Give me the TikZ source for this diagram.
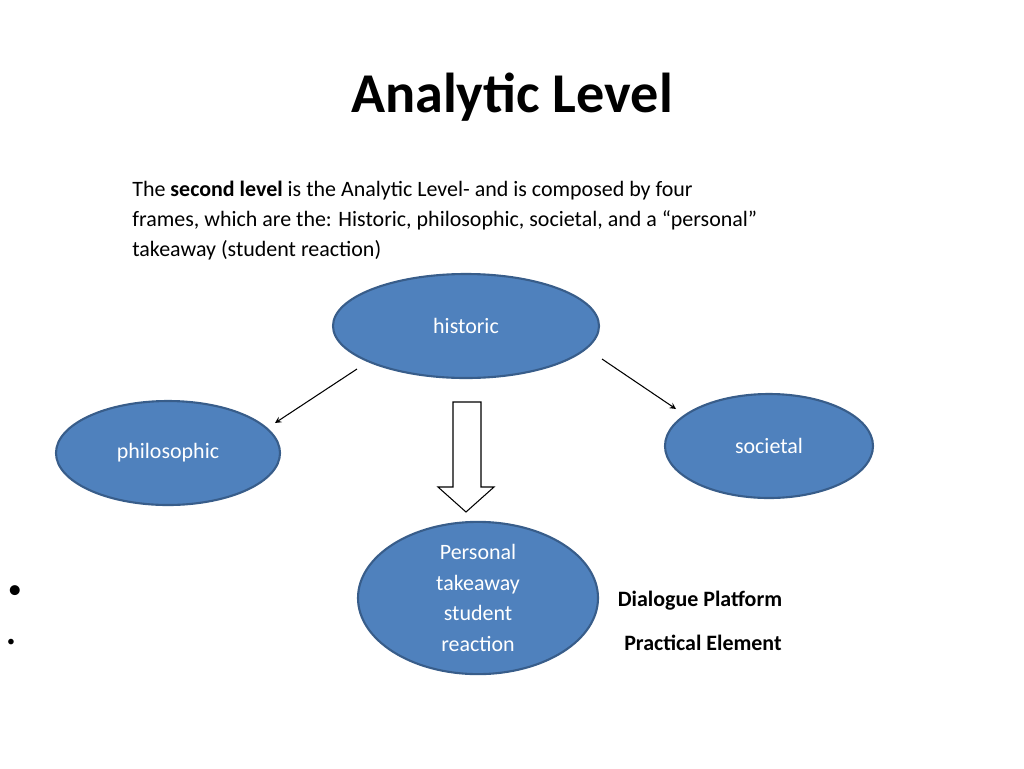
\documentclass[tikz,border=0pt]{standalone}
\usepackage{fontspec}
\setmainfont{Carlito}
\usetikzlibrary{shapes.geometric}
\definecolor{frameblue}{RGB}{79,129,189}
\definecolor{frameedge}{RGB}{56,93,138}
\tikzset{
  frame/.style={shape=ellipse,draw=frameedge,line width=1.2pt,fill=frameblue,text=white,font=\fontsize{12.5}{15}\selectfont,inner sep=0pt},
  link/.style={-stealth,line width=0.6pt},
}
\begin{document}
\begin{tikzpicture}[x=0.02cm,y=-0.02cm]
\useasboundingbox (0,0) rectangle (1024,768);
\node (title) at (512,97) {\fontsize{32}{36}\selectfont\bfseries Analytic Level};
\node[anchor=north west,align=left,inner sep=0pt,font=\fontsize{12.5}{17}\selectfont] (intro) at (132,181)
  {The \textbf{second level} is the Analytic Level- and is composed by four\\
   frames, which are the: Historic, philosophic, societal, and a “personal”\\
   takeaway (student reaction)};
\node[frame,minimum width=266\pgflinewidth/\pgflinewidth*0.02cm,minimum height=104*0.02cm] (historic) at (466,326) {historic};
\node[frame,minimum width=224*0.02cm,minimum height=104*0.02cm] (philosophic) at (168,453) {philosophic};
\node[frame,minimum width=208*0.02cm,minimum height=104*0.02cm] (societal) at (769,446) {societal};
\node[frame,minimum width=240*0.02cm,minimum height=130*0.02cm,align=center,font=\fontsize{12.5}{17.5}\selectfont] (personal) at (478,598) {Personal\\takeaway\\student\\reaction};
\coordinate (hl) at (357,369);
\coordinate (pl) at (275,423);
\coordinate (hr) at (602,359);
\coordinate (sr) at (676,409);
\draw[link] (hl) -- (pl);
\draw[link] (hr) -- (sr);
% block arrow
\draw[fill=white,line width=0.6pt] (453,402) -- (481,402) -- (481,487) -- (494,487) -- (466,512) -- (438,487) -- (453,487) -- cycle;
\node (dot1) at (15,592) {\fontsize{16}{16}\selectfont•};
\node (dot2) at (11,643) {\fontsize{9}{9}\selectfont•};
\node[font=\fontsize{12.5}{15}\selectfont\bfseries] (dialogue) at (700,601) {Dialogue Platform};
\node[font=\fontsize{12.5}{15}\selectfont\bfseries] (practical) at (703,643) {Practical Element};
\end{tikzpicture}
\end{document}
